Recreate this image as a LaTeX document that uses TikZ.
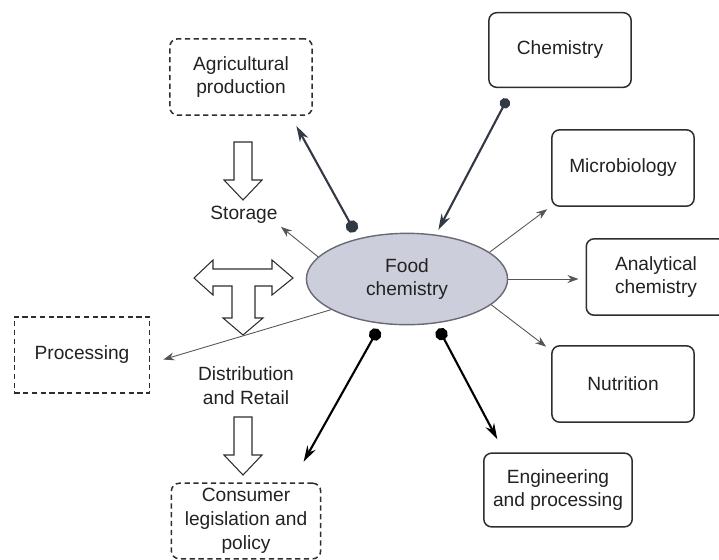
\documentclass[tikz,border=0pt]{standalone}
\usepackage{fontspec}
\setmainfont{Liberation Sans}
\usepackage{xcolor}
\usetikzlibrary{arrows.meta,shapes.geometric}
\definecolor{cText}{HTML}{222222}
\definecolor{cEdge}{HTML}{2E2E2E}
\definecolor{cHub}{HTML}{CDCEDC}
\definecolor{cHubEdge}{HTML}{6A6A74}
\definecolor{cThin}{HTML}{555555}
\definecolor{cLink}{HTML}{333845}
\tikzset{
  fieldbox/.style={draw=cEdge, line width=0.85pt, rounded corners=4.5pt, fill=white,
              minimum width=81pt, minimum height=43.5pt, inner sep=2pt, align=center, text=cText},
  chainbox/.style={fieldbox, dash pattern=on 3pt off 2pt},
  hub/.style={ellipse, draw=cHubEdge, line width=0.8pt, fill=cHub, minimum width=114.5pt,
              minimum height=52pt, inner sep=0pt, align=center, text=cText},
  thinarr/.style={-{Stealth[length=2.2mm, width=1.6mm]}, line width=0.5pt, cThin},
  dotarr/.style={{Circle[length=2.5mm]}-{Stealth[length=3.2mm, width=1.9mm]}, line width=1.2pt, cLink},
  hollow/.style={draw=cEdge, line width=0.6pt, fill=white, line join=miter},
  lbl/.style={text=cText, align=center}
}

\begin{document}
\begin{tikzpicture}[x=0.02cm, y=-0.02cm, font=\fontsize{10.9}{13.5}\selectfont]
\useasboundingbox (0,0) rectangle (719,559);
% centre
\node[hub] (food) at (407,279) {Food\\chemistry};
% food chain (left)
\node[chainbox] (agri) at (241,77) {Agricultural\\production};
\node[lbl, inner sep=1pt] (storage) at (244,215) {Storage};
\node[chainbox, sharp corners, minimum width=77pt] (proc) at (82,355) {Processing};
\node[lbl] (distrib) at (246,386) {Distribution\\and Retail};
\node[chainbox, minimum width=85pt, minimum height=43pt] (cons) at (246,521) {Consumer\\legislation and\\policy};
% disciplines (right)
\node[fieldbox, minimum height=42.5pt] (chem) at (560,50) {Chemistry};
\node[fieldbox] (micro) at (623,168) {Microbiology};
\node[fieldbox, minimum width=79.4pt] (analyt) at (656,277) {Analytical\\chemistry};
\node[fieldbox] (nutr) at (623,384) {Nutrition};
\node[fieldbox, minimum width=84.5pt, minimum height=42pt] (eng) at (558,490) {Engineering\\and processing};
% hollow flow arrows
\foreach \y in {142, 417}
  \draw[hollow] (234,\y) -- (252,\y) -- (252,\y+38) -- (262,\y+38) -- (243,\y+58)
    -- (224,\y+38) -- (234,\y+38) -- cycle;
\draw[hollow] (213,269) -- (272,269) -- (272,260) -- (293,278) -- (272,295) -- (272,286)
  -- (255,286) -- (255,318) -- (263,318) -- (243,335) -- (223,318) -- (232,318)
  -- (232,286) -- (213,286) -- (213,295) -- (194,278) -- (213,260) -- cycle;
% thin links
\draw[thinarr, shorten >=1pt] (food.166) -- (storage.south east);
\draw[thinarr, shorten >=7.7pt] (food.202) -- (proc.-7.5);
\draw[thinarr, shorten >=2.8pt] (food.18) -- (micro.208);
\draw[thinarr, shorten >=4pt] (food.east) -- (analyt.west |- food.east);
\draw[thinarr, shorten >=3.6pt] (food.-17) -- (nutr.155);
% heavy links with dots
\draw[dotarr, shorten <=4.1pt, shorten >=6.5pt] (food.140) -- (agri.-38);
\draw[dotarr, {Circle[length=2.1mm]}-{Stealth[length=3.2mm, width=1.9mm]}, shorten <=6.8pt, shorten >=3pt] (chem.-141) -- (food.57);
\draw[dotarr, black, shorten <=3.4pt, shorten >=13.6pt] (food.-120) -- (cons.40);
\draw[dotarr, black, shorten <=3.3pt, shorten >=8.4pt] (food.-57) -- (eng.145);
\end{tikzpicture}
\end{document}
